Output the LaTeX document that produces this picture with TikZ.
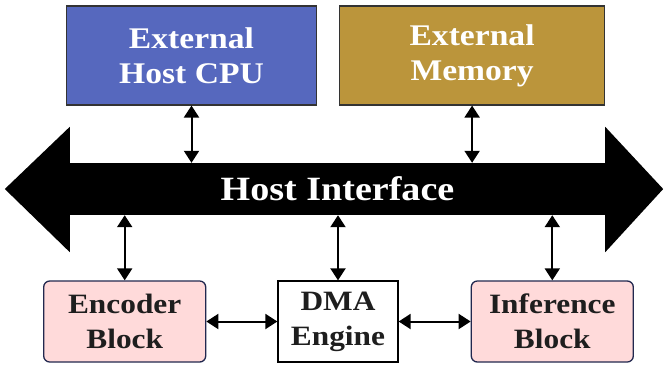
\documentclass[tikz,border=0pt]{standalone}
\usepackage{fontspec}
\setmainfont{Liberation Serif}[FakeStretch=1.12]
\usetikzlibrary{arrows.meta, positioning, calc}

\definecolor{cpublue}{HTML}{5668BE}
\definecolor{memgold}{HTML}{BB953B}
\definecolor{blockpink}{HTML}{FFDADA}
\definecolor{blocknavy}{HTML}{22284F}
\definecolor{textdark}{HTML}{1E1E1E}

\begin{document}
\begin{tikzpicture}[x=1pt, y=-1pt, >={Triangle[length=12pt,width=15pt]},
    hostbox/.style={draw=black!80, line width=1.1pt, minimum width=250pt,
      minimum height=99pt, text=white, align=center,
      font=\fontsize{30}{35}\selectfont\bfseries},
    blockbox/.style={draw=blocknavy, line width=1.3pt, rounded corners=6pt,
      fill=blockpink, minimum width=162pt, minimum height=81pt, text=textdark,
      align=center, font=\fontsize{28}{35}\selectfont\bfseries},
    link/.style={<->, line width=2pt}]
  \useasboundingbox (0,0) rectangle (665,365);

  % external parts
  \node[hostbox, fill=cpublue] (cpu) at (191.5,55.5) {External\\Host CPU};
  \node[hostbox, fill=memgold, minimum width=265pt, right=22pt of cpu] (mem) {External\\Memory};

  % host interface bus
  \node[fill=black, minimum width=535pt, minimum height=52pt, inner sep=0pt,
        text=white, font=\fontsize{34}{40}\selectfont\bfseries] (bus) at (337.5,189) {Host Interface};
  \fill ($(bus.north west)+(0,-36)$) -- ($(bus.west)+(-65,0)$)
    -- ($(bus.south west)+(0,37)$) -- cycle;
  \fill ($(bus.north east)+(0,-36)$) -- ($(bus.east)+(58,0)$)
    -- ($(bus.south east)+(0,37)$) -- cycle;

  % on-chip blocks
  \node[draw=black, line width=1.3pt, fill=white, minimum width=120pt,
        minimum height=81pt, text=textdark, align=center,
        font=\fontsize{28}{35}\selectfont\bfseries] (dma) at (338,321.5) {DMA\\Engine};
  \node[blockbox, left=71pt of dma] (enc) {Encoder\\Block};
  \node[blockbox, right=72pt of dma] (inf) {Inference\\Block};

  \draw[link] (cpu.south) -- (cpu.south |- bus.north);
  \draw[link] (mem.south) -- (mem.south |- bus.north);
  \draw[link] (enc.north) -- (enc.north |- bus.south);
  \draw[link] (dma.north) -- (dma.north |- bus.south);
  \draw[link] (inf.north) -- (inf.north |- bus.south);
  \draw[link] (enc.east) -- (dma.west);
  \draw[link] (dma.east) -- (inf.west);
\end{tikzpicture}
\end{document}
